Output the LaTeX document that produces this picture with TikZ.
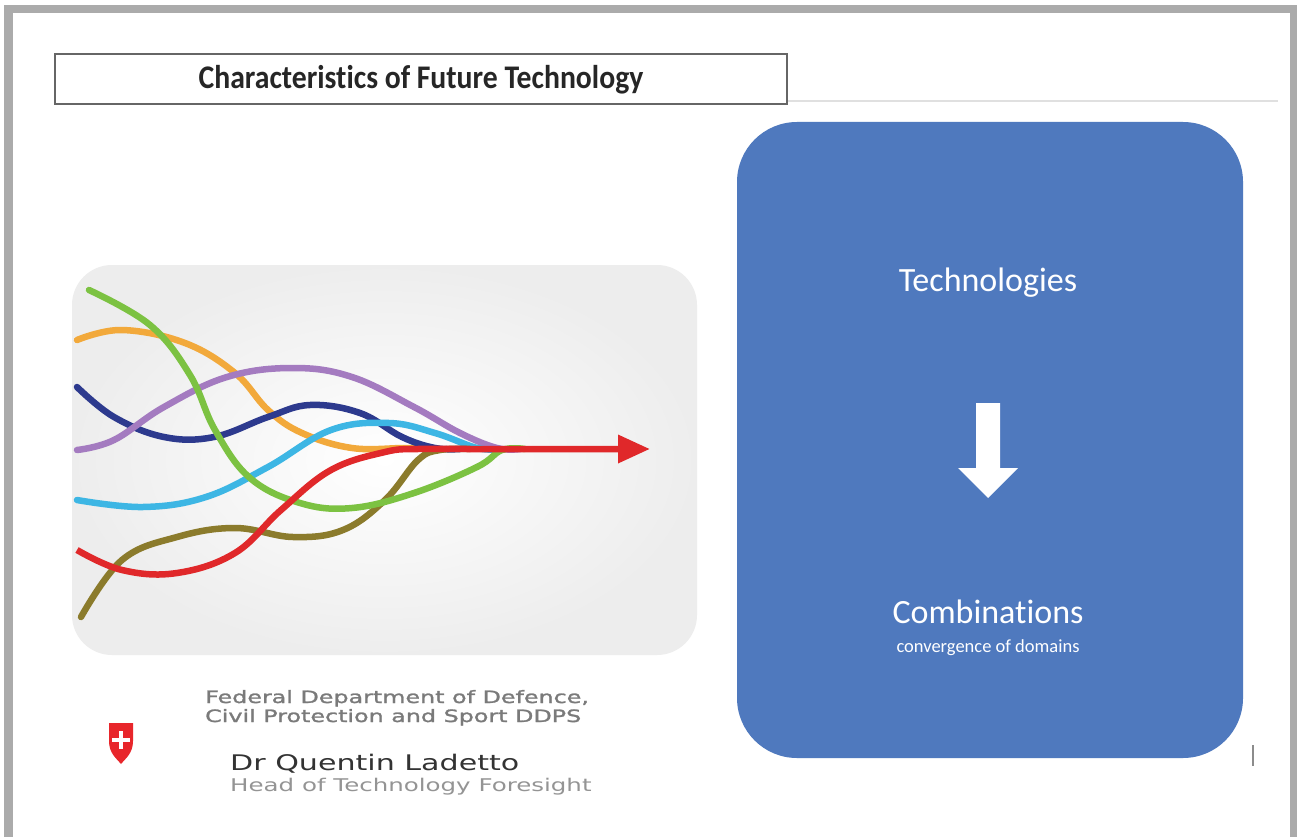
\documentclass[tikz,border=0pt]{standalone}
\usepackage{fontspec}
\usetikzlibrary{arrows.meta}
\newfontfamily\calibri[Ligatures=NoCommon]{Carlito}
\newfontfamily\calibritall[Ligatures=NoCommon, FakeStretch=0.9]{Carlito}
\newfontfamily\ddpsfont[FakeStretch=1.4]{DejaVu Sans}
\newfontfamily\ddpsbold[FakeStretch=1.4, FakeBold=1.5]{DejaVu Sans}
\definecolor{framegray}{HTML}{ABABAB}
\definecolor{panelblue}{HTML}{4F79BE}
\definecolor{cgreen}{HTML}{7CC242}
\definecolor{corange}{HTML}{F2A93B}
\definecolor{cpurple}{HTML}{A47BC0}
\definecolor{cnavy}{HTML}{2D3A8E}
\definecolor{ccyan}{HTML}{3DB6E4}
\definecolor{colive}{HTML}{8B7B2C}
\definecolor{cred}{HTML}{E0282A}
\definecolor{swissred}{HTML}{E8262B}
\tikzset{
  strand/.style={line width=6.5pt, line cap=round, smooth, tension=0.65},
  whitetext/.style={text=white, inner sep=0pt},
  footer/.style={anchor=base west, inner sep=0pt},
}
\begin{document}
\begin{tikzpicture}[x=1pt, y=-1pt]
  % page and frame
  \fill[white] (0,0) rectangle (1297,837);
  \fill[framegray] (4,5) rectangle (1297,13);
  \fill[framegray] (4,5) rectangle (13,837);
  \fill[framegray] (1290,5) rectangle (1297,837);

  % title box and header rule
  \draw[color=black!12, line width=1.5pt] (787,101) -- (1278,101);
  \node[draw=black!60, line width=1.5pt, minimum width=732pt, minimum height=50pt,
        inner sep=0pt] (title) at (421,79) {};
  \node[inner sep=0pt, font=\calibritall\bfseries\fontsize{33}{38}\selectfont, text=black!85]
        (titletext) at (421,80) {Characteristics of Future Technology};

  % left picture panel
  \shade[rounded corners=40pt, inner color=white, outer color=black!7]
        (72,265) rectangle (697,655);

  % converging strands
  \draw[strand, corange] plot coordinates {(77,340) (122,330) (185,343) (235,373)
        (268,410) (302,433) (352,448) (406,448) (440,449)};
  \draw[strand, cnavy] plot coordinates {(77,387) (114,417) (164,437) (214,437)
        (268,417) (310,405) (360,413) (402,437) (435,448) (460,449)};
  \draw[strand, cpurple] plot coordinates {(77,450) (114,440) (164,407) (227,377)
        (293,368) (352,377) (414,407) (460,433) (497,448) (520,449)};
  \draw[strand, ccyan] plot coordinates {(77,500) (143,507) (206,497) (268,467)
        (331,430) (389,423) (435,433) (477,448) (500,449)};
  \draw[strand, colive] plot coordinates {(81,617) (122,560) (177,537) (235,528)
        (293,537) (343,530) (385,500) (418,460) (440,450) (470,449)};
  \draw[strand, cgreen] plot coordinates {(89,290) (150,325) (190,375) (215,430)
        (250,478) (300,503) (352,508) (414,493) (477,467) (502,450) (525,449)};
  \draw[strand, cred, line cap=butt, -{Triangle[length=32pt, width=27pt]}]
        plot coordinates {(77,550) (122,570) (177,573) (235,553) (281,510)
        (331,470) (385,452) (418,449) (470,449) (560,449) (650,449)};

  % right panel
  \fill[panelblue, rounded corners=60pt] (737,122) rectangle (1243,758);
  \node[whitetext, font=\calibri\fontsize{34}{40}\selectfont] (tech) at (988,283) {Technologies};
  \fill[white] (976,403) -- (1000,403) -- (1000,468) -- (1018,468) -- (988,498)
        -- (958,468) -- (976,468) -- cycle;
  \node[whitetext, font=\calibri\fontsize{34}{40}\selectfont] (comb) at (988,612) {Combinations};
  \node[whitetext, font=\calibri\fontsize{18.5}{22}\selectfont] (conv) at (988,648) {convergence of domains};
  \draw[black!45, line width=1.5pt] (1253,745) -- (1253,766);

  % footer: emblem and credits
  \fill[swissred] (109,723) -- (133,723) -- (133,741)
        .. controls (133,753) and (126,758) .. (121,764)
        .. controls (116,758) and (109,753) .. (109,741) -- cycle;
  \fill[white] (119,731) rectangle (123,749);
  \fill[white] (112,738) rectangle (130,742);
  \node[footer, text=black!52, font=\ddpsbold\fontsize{17}{20}\selectfont] (dept1) at (205,703)
        {Federal Department of Defence,};
  \node[footer, text=black!52, font=\ddpsbold\fontsize{17}{20}\selectfont] (dept2) at (205,722)
        {Civil Protection and Sport DDPS};
  \node[footer, text=black!80, font=\ddpsfont\fontsize{21.5}{25}\selectfont] (name) at (230,770)
        {Dr Quentin Ladetto};
  \node[footer, text=black!42, font=\ddpsfont\fontsize{17.5}{20}\selectfont] (role) at (230,791)
        {Head of Technology Foresight};
\end{tikzpicture}
\end{document}
